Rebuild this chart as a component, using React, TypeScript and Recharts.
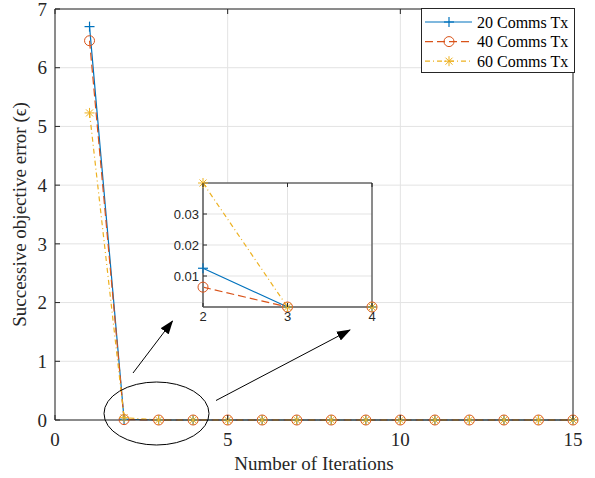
import React from "react";
import { LineChart, Line, XAxis, YAxis, CartesianGrid, Legend } from "recharts";

// values
const iterations = [1, 2, 3, 4, 5, 6, 7, 8, 9, 10, 11, 12, 13, 14, 15];
const comms20 = [6.7, 0.0125, 0, 0, 0, 0, 0, 0, 0, 0, 0, 0, 0, 0, 0];
const comms40 = [6.46, 0.0064, 0, 0, 0, 0, 0, 0, 0, 0, 0, 0, 0, 0, 0];
const comms60 = [5.23, 0.04, 0, 0, 0, 0, 0, 0, 0, 0, 0, 0, 0, 0, 0];
const seriesNames = ["20 Comms Tx", "40 Comms Tx", "60 Comms Tx"];

const xTicks = [0, 5, 10, 15];
const yTicks = [0, 1, 2, 3, 4, 5, 6, 7];
const insetXTicks = [2, 3, 4];
const insetYTicks = [0.01, 0.02, 0.03];

const data = iterations.map((it, i) => ({
  iter: it,
  c20: comms20[i],
  c40: comms40[i],
  c60: comms60[i],
}));
const insetData = data.filter((d) => d.iter >= 2 && d.iter <= 4);

const SERIES = [
  { key: "c20", name: seriesNames[0], color: "#0072BD", dash: undefined, marker: "plus" },
  { key: "c40", name: seriesNames[1], color: "#D95319", dash: "8 4", marker: "circle" },
  { key: "c60", name: seriesNames[2], color: "#EDB120", dash: "5 3 1 3", marker: "star" },
];

const INK = "#262626";
const GRID = "#e3e3e3";
const serif = '"Liberation Serif", "Times New Roman", serif';
const sans = '"Liberation Sans", Arial, sans-serif';

const drawMarker = (kind: string, cx: number, cy: number, color: string, key?: string) => {
  if (cx == null || cy == null) return <g key={key} />;
  const r = 5;
  if (kind === "plus") {
    return (
      <g key={key} stroke={color} strokeWidth={1.2}>
        <line x1={cx - r} x2={cx + r} y1={cy} y2={cy} />
        <line x1={cx} x2={cx} y1={cy - r} y2={cy + r} />
      </g>
    );
  }
  if (kind === "circle") {
    return <circle key={key} cx={cx} cy={cy} r={r} fill="none" stroke={color} strokeWidth={1} />;
  }
  const d = r * 0.7;
  return (
    <g key={key} stroke={color} strokeWidth={1}>
      <line x1={cx - r} x2={cx + r} y1={cy} y2={cy} />
      <line x1={cx} x2={cx} y1={cy - r} y2={cy + r} />
      <line x1={cx - d} x2={cx + d} y1={cy - d} y2={cy + d} />
      <line x1={cx - d} x2={cx + d} y1={cy + d} y2={cy - d} />
    </g>
  );
};

// inward ticks, MATLAB style
const bottomTick = (gap: number, len: number, font: any) => (p: any) => (
  <g key={`b-${p.index}`}>
    <line x1={p.x} x2={p.x} y1={p.y - gap} y2={p.y - gap - len} stroke={INK} />
    <text x={p.x} y={p.y} dy="0.71em" textAnchor="middle" {...font}>
      {p.payload.value}
    </text>
  </g>
);
const leftTick = (gap: number, len: number, font: any) => (p: any) => (
  <g key={`l-${p.index}`}>
    <line x1={p.x + gap} x2={p.x + gap + len} y1={p.y} y2={p.y} stroke={INK} />
    <text x={p.x} y={p.y} dy="0.35em" textAnchor="end" {...font}>
      {p.payload.value}
    </text>
  </g>
);
const topTick = (len: number) => (p: any) => (
  <line key={`t-${p.index}`} x1={p.x} x2={p.x} y1={p.y} y2={p.y + len} stroke={INK} />
);
const rightTick = (len: number) => (p: any) => (
  <line key={`r-${p.index}`} x1={p.x} x2={p.x - len} y1={p.y} y2={p.y} stroke={INK} />
);

const mainFont = { fontFamily: serif, fontSize: 19, fill: INK };
const insetFont = { fontFamily: sans, fontSize: 13, fill: INK };

const LegendBox = () => (
  <svg width={155} height={66} style={{ display: "block" }}>
    <rect x={0.5} y={0.5} width={153} height={64} fill="#fff" stroke={INK} />
    {SERIES.map((s, i) => {
      const y = 14 + i * 19.6;
      return (
        <g key={s.key}>
          <line x1={4} x2={51} y1={y} y2={y} stroke={s.color} strokeWidth={1.2} strokeDasharray={s.dash} />
          {drawMarker(s.marker, 28, y, s.color)}
          <text x={56} y={y} dy="0.35em" fontFamily={serif} fontSize={16} fill="#000">
            {s.name}
          </text>
        </g>
      );
    })}
  </svg>
);

const renderLines = () =>
  SERIES.map((s) => (
    <Line
      key={s.key}
      type="linear"
      dataKey={s.key}
      name={s.name}
      stroke={s.color}
      strokeWidth={1.2}
      strokeDasharray={s.dash}
      dot={(p: any) => drawMarker(s.marker, p.cx, p.cy, s.color, `${s.key}-${p.index}`)}
      activeDot={false}
      isAnimationActive={false}
    />
  ));

const App: React.FC = () => (
  <div style={{ position: "absolute", left: 0, top: 0, width: 595, height: 478, background: "#fff" }}>
    <LineChart width={595} height={478} data={data} margin={{ top: 8, right: 21, left: 0, bottom: 0 }}>
      <CartesianGrid stroke={GRID} />
      <XAxis
        dataKey="iter"
        type="number"
        domain={[0, 15]}
        ticks={xTicks}
        interval={0}
        height={58}
        tickSize={0}
        tickMargin={13}
        axisLine={{ stroke: INK }}
        tick={bottomTick(13, 5, mainFont)}
        label={(p: any) => (
          <text x={p.viewBox.x + p.viewBox.width / 2} y={p.viewBox.y + 50} textAnchor="middle" {...mainFont}>
            Number of Iterations
          </text>
        )}
      />
      <XAxis
        xAxisId="top"
        orientation="top"
        dataKey="iter"
        type="number"
        domain={[0, 15]}
        ticks={xTicks}
        interval={0}
        height={1}
        tickSize={0}
        tickMargin={0}
        axisLine={{ stroke: INK }}
        tick={topTick(5)}
      />
      <YAxis
        type="number"
        domain={[0, 7]}
        ticks={yTicks}
        interval={0}
        width={55}
        tickSize={0}
        tickMargin={8}
        axisLine={{ stroke: INK }}
        tick={leftTick(8, 5, mainFont)}
        label={(p: any) => {
          const cx = 19;
          const cy = p.viewBox.y + p.viewBox.height / 2;
          return (
            <text x={cx} y={cy} dy="0.35em" textAnchor="middle" transform={`rotate(-90 ${cx} ${cy})`} {...mainFont}>
              Successive objective error (ϵ)
            </text>
          );
        }}
      />
      <YAxis
        yAxisId="right"
        orientation="right"
        type="number"
        domain={[0, 7]}
        ticks={yTicks}
        interval={0}
        width={1}
        tickSize={0}
        tickMargin={0}
        axisLine={{ stroke: INK }}
        tick={rightTick(5)}
      />
      {renderLines()}
      <Legend
        layout="horizontal"
        verticalAlign="middle"
        align="center"
        content={() => <LegendBox />}
        wrapperStyle={{ left: 421, top: 8, width: 155, height: 66 }}
      />
    </LineChart>

    <svg width={595} height={478} style={{ position: "absolute", left: 0, top: 0, pointerEvents: "none" }}>
      <defs>
        <marker id="head" markerUnits="userSpaceOnUse" markerWidth={14} markerHeight={10} refX={13} refY={5} orient="auto">
          <path d="M0,0 L14,5 L0,10 Z" fill="#000" />
        </marker>
      </defs>
      <ellipse cx={156.5} cy={413.5} rx={52.5} ry={31.5} fill="none" stroke="#000" strokeWidth={1} />
      <line x1={133} y1={373} x2={172.5} y2={321} stroke="#000" strokeWidth={1} markerEnd="url(#head)" />
      <line x1={216} y1={400.5} x2={350} y2={330} stroke="#000" strokeWidth={1} markerEnd="url(#head)" />
    </svg>

    <div style={{ position: "absolute", left: 160, top: 175 }}>
      <LineChart width={222} height={160} data={insetData} margin={{ top: 7, right: 9, left: 0, bottom: 0 }}>
        <CartesianGrid stroke={GRID} fill="#fff" />
        <XAxis
          dataKey="iter"
          type="number"
          domain={[2, 4]}
          ticks={insetXTicks}
          interval={0}
          height={28}
          tickSize={0}
          tickMargin={5}
          axisLine={{ stroke: "#7f7f7f", strokeWidth: 2 }}
          tick={bottomTick(5, 4, insetFont)}
        />
        <XAxis
          xAxisId="top"
          orientation="top"
          dataKey="iter"
          type="number"
          domain={[2, 4]}
          ticks={insetXTicks}
          interval={0}
          height={1}
          tickSize={0}
          tickMargin={0}
          axisLine={{ stroke: INK }}
          tick={topTick(4)}
        />
        <YAxis
          type="number"
          domain={[0, 0.04]}
          ticks={insetYTicks}
          interval={0}
          width={43}
          tickSize={0}
          tickMargin={4}
          axisLine={{ stroke: "#7f7f7f", strokeWidth: 2 }}
          tick={leftTick(4, 4, insetFont)}
        />
        <YAxis
          yAxisId="right"
          orientation="right"
          type="number"
          domain={[0, 0.04]}
          ticks={insetYTicks}
          interval={0}
          width={1}
          tickSize={0}
          tickMargin={0}
          axisLine={{ stroke: INK }}
          tick={rightTick(4)}
        />
        {renderLines()}
      </LineChart>
    </div>
  </div>
);

export default App;
